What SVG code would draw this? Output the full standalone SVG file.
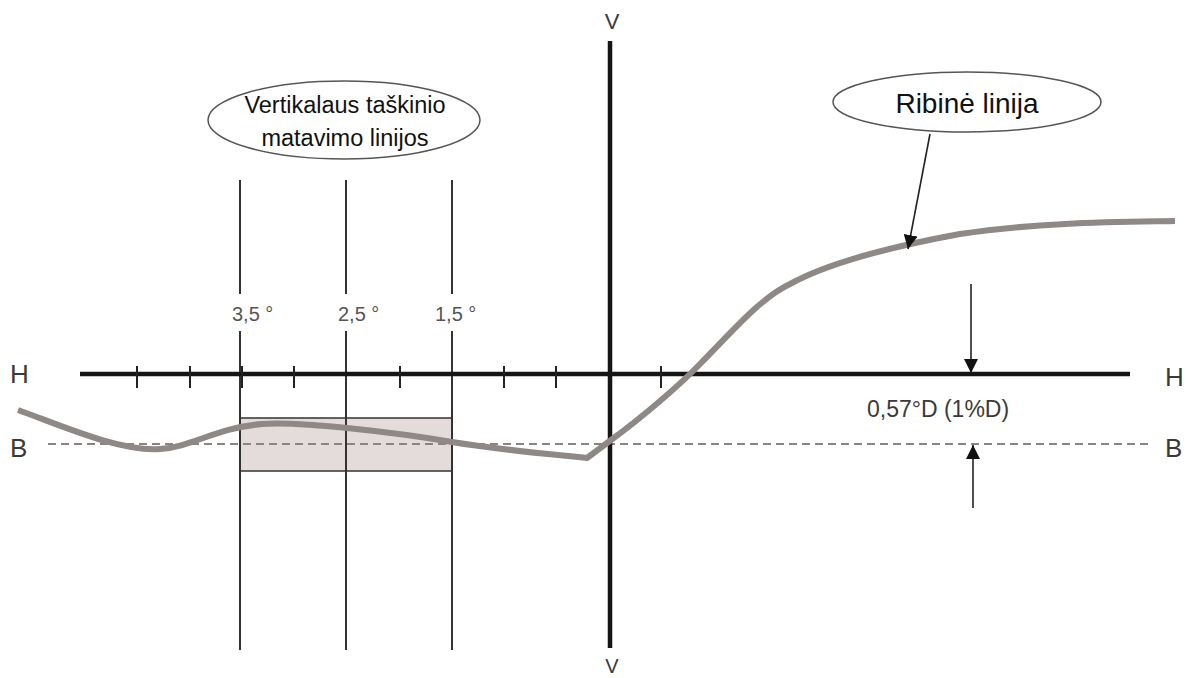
<svg xmlns="http://www.w3.org/2000/svg" width="1189" height="678" viewBox="0 0 1189 678">
<defs>
<style>
.axis{stroke:#151515;stroke-width:4.5;fill:none}
.tick{stroke:#222;stroke-width:2;fill:none}
.vline{stroke:#333;stroke-width:2;fill:none}
.curve{stroke:#8e8886;stroke-width:6;fill:none;stroke-linejoin:round;stroke-linecap:butt}
.dash{stroke:#8a8583;stroke-width:2;stroke-dasharray:8 5;fill:none}
.lbl{font-family:"Liberation Sans",Arial,sans-serif;fill:#3a3a3a}
.deg{font-family:"Liberation Sans",Arial,sans-serif;fill:#555;font-size:20px}
.note{font-family:"Liberation Sans",Arial,sans-serif;fill:#111}
.ell{fill:#fff;stroke:#555;stroke-width:1.5}
.arr{stroke:#222;stroke-width:1.6;fill:none}
</style>
<marker id="ah" viewBox="0 0 10 10" refX="10" refY="5" markerWidth="14" markerHeight="14" markerUnits="userSpaceOnUse" orient="auto">
<path d="M0,0 L10,5 L0,10 z" fill="#111"/>
</marker>
</defs>

<g id="box">
<rect x="240" y="418" width="212" height="53" fill="#e3dcda" stroke="#333" stroke-width="1.5"/>
</g>

<g id="baseline-B">
<line class="dash" x1="48" y1="444" x2="1152" y2="444"/>
<text class="lbl" x="10" y="457" font-size="26">B</text>
<text class="lbl" x="1165" y="457" font-size="26">B</text>
</g>

<g id="measure-lines">
<line class="vline" x1="240" y1="180" x2="240" y2="294"/>
<line class="vline" x1="240" y1="331" x2="240" y2="650"/>
<line class="vline" x1="346" y1="180" x2="346" y2="294"/>
<line class="vline" x1="346" y1="331" x2="346" y2="650"/>
<line class="vline" x1="452" y1="180" x2="452" y2="294"/>
<line class="vline" x1="452" y1="331" x2="452" y2="650"/>
<text class="deg" x="232" y="321">3,5 °</text>
<text class="deg" x="338" y="321">2,5 °</text>
<text class="deg" x="435" y="321">1,5 °</text>
</g>

<g id="axis-H">
<line class="axis" x1="80" y1="374" x2="1130" y2="374"/>
<g class="tick">
<line x1="137" y1="366" x2="137" y2="388"/>
<line x1="190" y1="366" x2="190" y2="388"/>
<line x1="242" y1="366" x2="242" y2="388"/>
<line x1="294" y1="366" x2="294" y2="388"/>
<line x1="400" y1="366" x2="400" y2="388"/>
<line x1="504" y1="366" x2="504" y2="388"/>
<line x1="556" y1="366" x2="556" y2="388"/>
<line x1="661" y1="366" x2="661" y2="388"/>
</g>
<text class="lbl" x="10" y="383" font-size="26">H</text>
<text class="lbl" x="1165" y="386" font-size="26">H</text>
</g>

<g id="axis-V">
<line class="axis" x1="610" y1="41" x2="610" y2="648"/>
<text class="lbl" x="612" y="29" font-size="22" text-anchor="middle">V</text>
<text class="lbl" x="612" y="673" font-size="20" text-anchor="middle">V</text>
</g>

<g id="boundary-curve">
<path class="curve" d="M18,410 C60,425 120,452 160,449 C192,447 215,428 262,424 C300,421 400,433 452,442 C500,450 560,455 587,458 L611,440 C640,419 680,385 700,364 C730,334 760,298 790,284 C830,262 900,245 960,234 C1040,222 1120,222 1175,221"/>
</g>

<g id="note-vertical">
<ellipse class="ell" cx="344" cy="120" rx="136" ry="39"/>
<text class="note" x="345" y="113" font-size="23.5" text-anchor="middle">Vertikalaus taškinio</text>
<text class="note" x="345" y="146" font-size="23.5" text-anchor="middle">matavimo linijos</text>
</g>

<g id="note-ribine">
<ellipse class="ell" cx="967" cy="102" rx="134" ry="30"/>
<text class="note" x="967" y="113" font-size="28" text-anchor="middle">Ribinė linija</text>
</g>

<g id="dim-label">
<text class="lbl" x="867" y="417" font-size="23" fill="#444">0,57°D (1%D)</text>
</g>

<g id="connectors">
<line class="arr" x1="930" y1="134" x2="908" y2="249" marker-end="url(#ah)"/>
<line class="arr" x1="971" y1="284" x2="971" y2="373" marker-end="url(#ah)"/>
<line class="arr" x1="973" y1="508" x2="973" y2="445" marker-end="url(#ah)"/>
</g>
</svg>
